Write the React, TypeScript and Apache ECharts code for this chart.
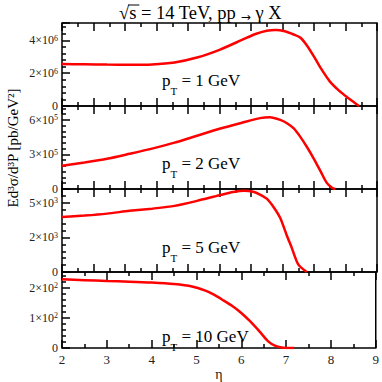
import React, { useEffect, useRef } from "react";
import * as echarts from "echarts";

// Panel 1: pT = 1 GeV
const eta1 = [2.0, 2.5, 3.0, 3.5, 4.0, 4.5, 5.0, 5.5, 6.0, 6.3, 6.55, 6.75, 6.95, 7.15, 7.3, 7.45, 7.6, 7.75, 7.95, 8.15, 8.35, 8.5, 8.6];
const val1 = [2.55e6, 2.54e6, 2.52e6, 2.51e6, 2.53e6, 2.65e6, 2.95e6, 3.42e6, 4.02e6, 4.38e6, 4.58e6, 4.63e6, 4.55e6, 4.35e6, 4.15e6, 3.65e6, 3.0e6, 2.3e6, 1.5e6, 0.95e6, 0.5e6, 0.2e6, 0];
// Panel 2: pT = 2 GeV
const eta2 = [2.0, 2.5, 3.0, 3.5, 4.0, 4.5, 5.0, 5.5, 6.0, 6.4, 6.62, 6.85, 7.0, 7.15, 7.3, 7.45, 7.6, 7.75, 7.88, 8.0, 8.07];
const val2 = [2.02e5, 2.3e5, 2.62e5, 3.05e5, 3.5e5, 4.02e5, 4.62e5, 5.22e5, 5.75e5, 6.15e5, 6.23e5, 6.0e5, 5.7e5, 5.25e5, 4.5e5, 3.6e5, 2.6e5, 1.5e5, 0.55e5, 0.1e5, 0];
// Panel 3: pT = 5 GeV
const eta3 = [2.0, 2.5, 3.0, 3.5, 4.0, 4.5, 5.0, 5.5, 5.8, 6.05, 6.25, 6.4, 6.55, 6.7, 6.85, 7.0, 7.1, 7.25, 7.44];
const val3 = [3970, 4080, 4220, 4420, 4580, 4780, 5140, 5550, 5780, 5880, 5800, 5600, 5300, 4700, 3900, 2600, 1800, 550, 0];
// Panel 4: pT = 10 GeV
const eta4 = [2.0, 2.5, 3.0, 3.5, 4.0, 4.5, 4.9, 5.2, 5.4, 5.6, 5.8, 6.0, 6.2, 6.4, 6.6, 6.75, 6.9, 7.0, 7.18];
const val4 = [228, 225, 222, 220, 217, 212, 204, 190, 176, 158, 139, 116, 88, 56, 22, 8, 1.5, 0.3, 0];

const panelLabels = ["1", "2", "5", "10"];
const yMax = [5.05e6, 7.2e5, 6000, 252];
const yInterval = [2e6, 3e5, 2500, 100];
const yMinorSplit = [5, 6, 5, 5];
const yTickValues = [
  [0, 2e6, 4e6],
  [0, 3e5, 6e5],
  [0, 2500, 5000],
  [0, 100, 200],
];
const yTickLabels = [
  ["0", "2×10^6", "4×10^6"],
  ["0", "3×10^5", "6×10^5"],
  ["0", "2×10^3", "5×10^3"],
  ["0", "1×10^2", "2×10^2"],
];
const xTickLabels = ["2", "3", "4", "5", "6", "7", "8", "9"];

const etas = [eta1, eta2, eta3, eta4];
const vals = [val1, val2, val3, val4];

const FONT = "'Liberation Serif', 'DejaVu Serif', serif";
const gridTops = [23, 106, 189, 272];
const GRID_H = 83;
const GRID_LEFT = 62;
const GRID_W = 315;

function richLabel(s: string) {
  if (s.indexOf("^") < 0) return `{m|${s}}`;
  const [a, b] = s.split("^");
  return `{m|${a}}{e|${b}}`;
}

function measure(text: string, size: number) {
  const c = document.createElement("canvas").getContext("2d");
  if (!c) return text.length * size * 0.5;
  c.font = `${size}px 'Liberation Serif'`;
  return c.measureText(text).width;
}

export default function App() {
  const ref = useRef<HTMLDivElement>(null);
  useEffect(() => {
    if (!ref.current) return;
    const chart = echarts.init(ref.current, undefined, { renderer: "svg" });
    const grids: any[] = [];
    const xAxes: any[] = [];
    const yAxes: any[] = [];
    const series: any[] = [];
    const tickStyle = { color: "#000", width: 1.5 };

    for (let i = 0; i < 4; i++) {
      grids.push({
        left: GRID_LEFT,
        top: gridTops[i],
        width: GRID_W,
        height: GRID_H,
        show: true,
        borderColor: "#000",
        borderWidth: 1.5,
        backgroundColor: "transparent",
      });
    }
    for (let i = 0; i < 3; i++) {
      grids.push({ left: GRID_LEFT, top: gridTops[i], width: GRID_W, height: GRID_H, show: false });
    }

    for (let i = 0; i < 4; i++) {
      const last = i === 3;
      xAxes.push({
        type: "value",
        gridIndex: i,
        min: 2,
        max: 9,
        interval: 1,
        position: "bottom",
        show: last,
        axisLine: { show: false },
        axisTick: { show: true, inside: true, length: 8, lineStyle: tickStyle },
        minorTick: { show: true, splitNumber: 2, length: 4, lineStyle: tickStyle },
        splitLine: { show: false },
        axisLabel: {
          show: true,
          margin: 5,
          fontFamily: FONT,
          fontSize: 13,
          color: "#222",
          formatter: (v: number) => {
            const idx = Math.round(v) - 2;
            return Math.abs(v - Math.round(v)) < 1e-6 && xTickLabels[idx] ? xTickLabels[idx] : "";
          },
        },
        name: last ? "η" : "",
        nameLocation: "middle",
        nameGap: 19,
        nameTextStyle: { fontFamily: FONT, fontSize: 14, color: "#222" },
      });
      if (last) {
        xAxes.push({
          type: "value",
          gridIndex: i,
          min: 2,
          max: 9,
          interval: 1,
          position: "top",
          axisLine: { show: false },
          axisTick: { show: true, inside: true, length: 8, lineStyle: tickStyle },
          minorTick: { show: true, splitNumber: 2, length: 4, lineStyle: tickStyle },
          splitLine: { show: false },
          axisLabel: { show: false },
        });
      }
      yAxes.push({
        type: "value",
        gridIndex: i,
        min: 0,
        max: yMax[i],
        interval: yInterval[i],
        position: "left",
        axisLine: { show: false },
        axisTick: { show: true, inside: true, length: 8, lineStyle: tickStyle },
        minorTick: { show: true, splitNumber: yMinorSplit[i], length: 4, lineStyle: tickStyle },
        splitLine: { show: false },
        axisLabel: {
          margin: 4,
          showMaxLabel: false,
          formatter: (v: number) => {
            const k = yTickValues[i].findIndex((t) => Math.abs(t - v) < 1e-9 * Math.max(1, yMax[i]));
            return k >= 0 ? richLabel(yTickLabels[i][k]) : "";
          },
          rich: {
            m: { fontFamily: FONT, fontSize: 12, color: "#222", lineHeight: 12, verticalAlign: "bottom" },
            e: { fontFamily: FONT, fontSize: 8, color: "#222", lineHeight: 4, verticalAlign: "top" },
          },
        },
      });
    }
    for (let i = 0; i < 3; i++) {
      const g = 4 + i;
      for (const pos of ["bottom", "top"]) {
        xAxes.push({
          type: "value",
          gridIndex: g,
          min: 0,
          max: 10,
          interval: 1,
          position: pos,
          axisLine: { show: false },
          axisTick: { show: true, inside: true, length: 8, lineStyle: tickStyle },
          minorTick: { show: true, splitNumber: 2, length: 4, lineStyle: tickStyle },
          splitLine: { show: false },
          axisLabel: { show: false },
        });
      }
      yAxes.push({ type: "value", gridIndex: g, min: 0, max: 1, show: false });
    }

    for (let i = 0; i < 4; i++) {
      series.push({
        type: "line",
        xAxisIndex: i,
        yAxisIndex: i,
        data: etas[i].map((e, k) => [e, vals[i][k]]),
        showSymbol: false,
        smooth: 0.25,
        lineStyle: { color: "#ff0000", width: 2.5 },
        itemStyle: { color: "#ff0000" },
      });
    }

    // title with overline over "s"
    const TS = 18.5;
    const titleX = 119;
    const wRoot = measure("√", TS);
    const wS = measure("s", TS);
    const labelTops = [84, 167, 251, 340];
    const graphic: any[] = [
      {
        type: "text",
        left: titleX,
        top: 3,
        style: {
          text: "{t|√s = 14 TeV, pp }{a|→}{t| γ X}",
          rich: {
            t: { fontFamily: FONT, fontSize: TS, fill: "#000", lineHeight: 21, verticalAlign: "middle" },
            a: { fontFamily: "'DejaVu Sans', sans-serif", fontSize: 12, fill: "#000", lineHeight: 14, verticalAlign: "bottom" },
          },
        },
      },
      {
        type: "line",
        shape: { x1: titleX + wRoot - 1, y1: 5, x2: titleX + wRoot + wS + 3, y2: 5 },
        style: { stroke: "#000", lineWidth: 1 },
      },
      {
        type: "text",
        x: 13,
        y: 148,
        rotation: Math.PI / 2,
        style: {
          text: "Ed³σ/d³P [pb/GeV²]",
          fontFamily: FONT,
          fontSize: 15,
          fill: "#000",
          align: "center",
          verticalAlign: "middle",
        },
      },
    ];
    for (let i = 0; i < 4; i++) {
      graphic.push({
        type: "text",
        left: 162,
        top: labelTops[i] - 12,
        style: {
          text: `{p|p}{s|T}{p| = ${panelLabels[i]} GeV}`,
          rich: {
            p: { fontFamily: FONT, fontSize: 17, fill: "#000", lineHeight: 24, verticalAlign: "top" },
            s: { fontFamily: FONT, fontSize: 11, fill: "#000", lineHeight: 11, verticalAlign: "bottom" },
          },
        },
      });
    }

    chart.setOption({
      animation: false,
      backgroundColor: "#fff",
      grid: grids,
      xAxis: xAxes,
      yAxis: yAxes,
      series,
      graphic,
    });
    return () => chart.dispose();
  }, []);
  return <div ref={ref} style={{ position: "fixed", left: 0, top: 0, width: 382, height: 382 }} />;
}
